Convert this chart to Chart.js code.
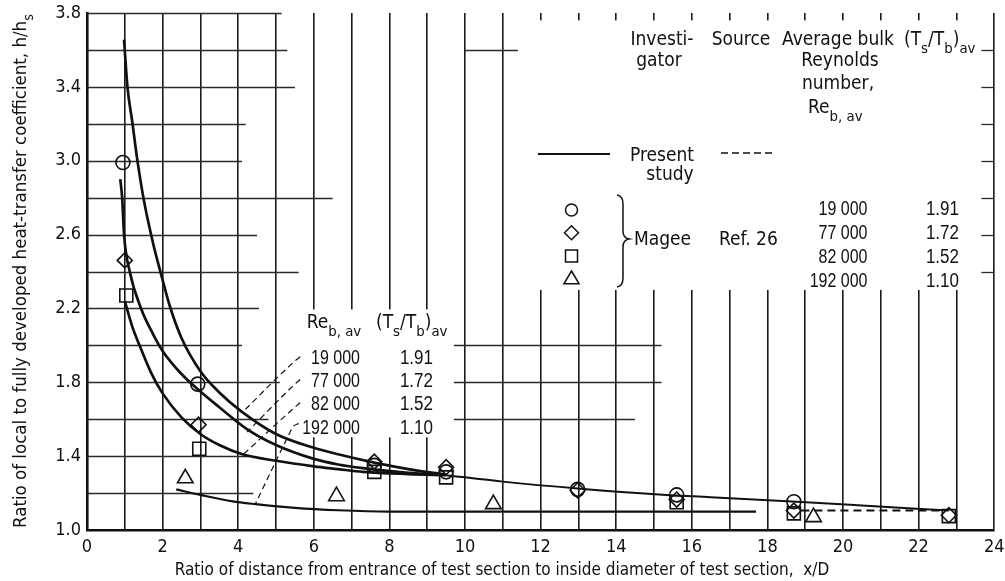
<!DOCTYPE html>
<html><head><meta charset="utf-8">
<script src="https://cdn.jsdelivr.net/npm/chart.js@4.4.1/dist/chart.umd.min.js"></script>
<style>html,body{margin:0;padding:0;background:#fff}canvas{display:block}</style>
</head><body>
<canvas id="c" width="1005" height="581"></canvas>
<script>
// ---------------- data ----------------
const xTickValues = [0,2,4,6,8,10,12,14,16,18,20,22,24];
const yTickLabels = ['1.0','1.4','1.8','2.2','2.6','3.0','3.4','3.8'];

// Present study curves (solid)
const c19X = [0.98,1.07,1.20,1.33,1.51,1.74,1.98,2.18,2.5,3.0,3.5,4.1,5.0,6.0,6.64,7.6,8.5,9.5];
const c19Y = [3.656,3.40,3.207,3.006,2.78,2.56,2.37,2.22,2.04,1.86,1.745,1.64,1.52,1.445,1.41,1.365,1.33,1.30];
const c77X = [0.88,0.93,0.98,1.13,1.43,1.75,2.0,2.5,3.0,3.5,4.24,5.0,6.0,6.64,7.3,8.5,9.5];
const c77Y = [2.90,2.80,2.60,2.40,2.20,2.06,1.97,1.845,1.75,1.665,1.545,1.46,1.385,1.355,1.335,1.31,1.30];
const c82X = [1.0,1.2,1.39,1.7,2.0,2.5,3.0,3.5,4.11,5.0,6.0,6.64,7.3,8.5,9.5];
const c82Y = [2.24,2.10,2.00,1.85,1.74,1.61,1.52,1.46,1.41,1.375,1.345,1.33,1.315,1.303,1.297];
const tailX = [9.5,11.0,12.98,15.04,16.5,18.9,20.5,22.8];
const tailY = [1.297,1.262,1.225,1.194,1.178,1.152,1.133,1.105];
const c192X = [2.36,3.0,3.85,4.46,5.5,6.65,8.0,12.0,17.7];
const c192Y = [1.22,1.19,1.155,1.14,1.12,1.107,1.10,1.10,1.10];
const dashX = [18.9,22.6];
const dashY = [1.105,1.105];

// Magee, Ref. 26 data points
const circX = [0.95,2.93,7.6,9.5,12.98,15.6,18.7];
const circY = [2.99,1.79,1.35,1.315,1.22,1.19,1.153];
const diamX = [1.0,2.95,7.6,9.5,12.98,15.6,18.7,22.8];
const diamY = [2.46,1.57,1.37,1.34,1.215,1.165,1.105,1.08];
const sqX = [1.04,2.97,7.6,9.5,15.6,18.7,22.8];
const sqY = [2.27,1.44,1.315,1.285,1.15,1.09,1.075];
const triX = [2.6,6.6,10.75,19.22];
const triY = [1.28,1.183,1.14,1.07];

// label leaders (dashed), data units
const lead19X = [5.64,5.5,4.10];  const lead19Y = [1.938,1.915,1.635];
const lead77X = [5.64,5.5,4.24];  const lead77Y = [1.815,1.79,1.531];
const lead82X = [5.64,5.5,4.11];  const lead82Y = [1.689,1.665,1.405];
const lead192X = [5.6,5.45,5.35,4.46]; const lead192Y = [1.577,1.56,1.52,1.144];

const reLabels = ['19 000','77 000','82 000','192 000'];
const tsLabels = ['1.91','1.72','1.52','1.10'];

// ---------------- helpers ----------------
const pts = (xs, ys) => xs.map((x, i) => ({x: x, y: ys[i]}));
const WORD = "'DejaVu Sans Condensed','DejaVu Sans',sans-serif";
const NUM = "'Liberation Sans','DejaVu Sans',sans-serif";
const INK = '#111';

function lineDs(xs, ys, w, dash) {
  return {type:'line', data: pts(xs, ys), borderColor: INK, borderWidth: w,
    borderDash: dash || [], pointRadius: 0, cubicInterpolationMode: 'monotone',
    fill: false, showLine: true};
}
function markDs(xs, ys, style, r) {
  return {type:'scatter', data: pts(xs, ys), pointStyle: style, pointRadius: r,
    pointHoverRadius: r, pointBorderColor: INK, pointBackgroundColor: 'rgba(0,0,0,0)',
    pointBorderWidth: 1.6, showLine: false};
}

// horizontal graph-paper segments (value, [u0,u1] ranges)
const hSeg = [
  [3.8, [[0,5.15]]],
  [3.6, [[0,5.3],[10,11.4],[23.6,24]]],
  [3.4, [[0,5.5],[23.6,24]]],
  [3.2, [[0,4.2],[23.6,24]]],
  [3.0, [[0,4.1],[23.6,24]]],
  [2.8, [[0,6.5],[23.6,24]]],
  [2.6, [[0,4.5],[23.6,24]]],
  [2.4, [[0,5.6],[23.6,24]]],
  [2.2, [[0,4.55]]],
  [2.0, [[0,4.1],[9.7,15.2]]],
  [1.8, [[0,5.1],[9.7,15.2]]],
  [1.6, [[0,4.8],[9.7,14.5]]],
  [1.4, [[0,4.3]]],
  [1.2, [[0,4.4]]]
];

// parts: {t, s: subscript}; sx: horizontal squeeze
function rich(ctx, parts, x, y, size, align, fam, sx) {
  sx = sx || 1;
  const sub = size * 0.78;
  let w = 0;
  parts.forEach(p => { ctx.font = (p.s ? sub : size) + 'px ' + fam; w += ctx.measureText(p.t).width; });
  w *= sx;
  let cx = align === 'center' ? x - w / 2 : align === 'right' ? x - w : x;
  ctx.save();
  ctx.translate(cx, y); ctx.scale(sx, 1);
  ctx.textAlign = 'left'; ctx.textBaseline = 'alphabetic';
  let ox = 0;
  parts.forEach(p => {
    ctx.font = (p.s ? sub : size) + 'px ' + fam;
    ctx.fillText(p.t, ox, p.s ? size * 0.42 : 0);
    ox += ctx.measureText(p.t).width;
  });
  ctx.restore();
}
function mark(ctx, style, x, y, r) {
  ctx.beginPath();
  if (style === 'circle') ctx.arc(x, y, r, 0, Math.PI * 2);
  else if (style === 'diamond') { ctx.moveTo(x, y - r); ctx.lineTo(x + r, y); ctx.lineTo(x, y + r); ctx.lineTo(x - r, y); ctx.closePath(); }
  else if (style === 'square') ctx.rect(x - r, y - r, 2 * r, 2 * r);
  else { ctx.moveTo(x, y - r); ctx.lineTo(x + r * 0.95, y + r * 0.6); ctx.lineTo(x - r * 0.95, y + r * 0.6); ctx.closePath(); }
  ctx.stroke();
}

const paperPlugin = {
  id: 'paper',
  beforeDatasetsDraw(chart) {
    const ctx = chart.ctx, xs = chart.scales.x, ys = chart.scales.y;
    ctx.save();
    ctx.strokeStyle = '#2a2a2a'; ctx.lineWidth = 1.3;
    hSeg.forEach(([v, segs]) => {
      const py = Math.round(ys.getPixelForValue(v)) + 0.5;
      segs.forEach(([a, b]) => {
        ctx.beginPath(); ctx.moveTo(xs.getPixelForValue(a), py); ctx.lineTo(xs.getPixelForValue(b), py); ctx.stroke();
      });
    });
    // white label areas
    ctx.fillStyle = '#fff';
    const box = (u0, v0, u1, v1) => {
      const x0 = xs.getPixelForValue(u0), x1 = xs.getPixelForValue(u1);
      const y0 = ys.getPixelForValue(v0), y1 = ys.getPixelForValue(v1);
      ctx.fillRect(x0, y0, x1 - x0, y1 - y0);
    };
    box(11.49, 3.76, 23.66, 2.30);
    box(5.55, 2.195, 9.70, 1.502);
    ctx.restore();
  },
  afterDatasetsDraw(chart) {
    const ctx = chart.ctx;
    ctx.save();
    ctx.fillStyle = INK; ctx.strokeStyle = INK;
    // ---- top-right key ----
    const S = 19;
    rich(ctx, [{t:'Investi-'}], 662, 45, S, 'center', WORD);
    rich(ctx, [{t:'gator'}], 659, 66, S, 'center', WORD);
    rich(ctx, [{t:'Source'}], 741, 45, S, 'center', WORD);
    rich(ctx, [{t:'Average bulk'}], 838, 45, S, 'center', WORD);
    rich(ctx, [{t:'Reynolds'}], 840, 66, S, 'center', WORD);
    rich(ctx, [{t:'number,'}], 838, 89, S, 'center', WORD);
    rich(ctx, [{t:'Re'},{t:'b, av', s:1}], 808, 113, S, 'left', WORD);
    rich(ctx, [{t:'(T'},{t:'s', s:1},{t:'/T'},{t:'b', s:1},{t:')'},{t:'av', s:1}], 904, 45, S, 'left', WORD);
    rich(ctx, [{t:'Present'}], 662, 161, S, 'center', WORD);
    rich(ctx, [{t:'study'}], 670, 180, S, 'center', WORD);
    ctx.lineWidth = 1.8;
    ctx.beginPath(); ctx.moveTo(538, 154); ctx.lineTo(610, 154); ctx.stroke();
    ctx.lineWidth = 1.4; ctx.setLineDash([7, 4]);
    ctx.beginPath(); ctx.moveTo(721, 153); ctx.lineTo(773, 153); ctx.stroke();
    ctx.setLineDash([]);
    ctx.lineWidth = 1.5;
    mark(ctx, 'circle', 571.5, 210, 6);
    mark(ctx, 'diamond', 571.5, 232.7, 7);
    mark(ctx, 'square', 571.5, 256, 6);
    mark(ctx, 'triangle', 571.5, 279, 8);
    // brace
    ctx.lineWidth = 1.5;
    ctx.beginPath();
    ctx.moveTo(617, 195); ctx.quadraticCurveTo(623, 196, 623, 204);
    ctx.lineTo(623, 231); ctx.quadraticCurveTo(623, 238, 629, 239);
    ctx.quadraticCurveTo(623, 240, 623, 247);
    ctx.lineTo(623, 278); ctx.quadraticCurveTo(623, 286, 617, 287);
    ctx.stroke();
    rich(ctx, [{t:'Magee'}], 634, 245, S, 'left', WORD);
    rich(ctx, [{t:'Ref. 26'}], 719, 245, S, 'left', WORD);
    const rows = [215, 239, 263, 287];
    rows.forEach((y, i) => {
      rich(ctx, [{t: reLabels[i]}], 867.5, y, 20, 'right', NUM, 0.8);
      rich(ctx, [{t: tsLabels[i]}], 959, y, 20, 'right', NUM, 0.85);
    });
    // ---- inner key ----
    rich(ctx, [{t:'Re'},{t:'b, av', s:1}], 306.7, 328, S, 'left', WORD);
    rich(ctx, [{t:'(T'},{t:'s', s:1},{t:'/T'},{t:'b', s:1},{t:')'},{t:'av', s:1}], 376, 328, S, 'left', WORD);
    const rows2 = [364, 387, 410, 434];
    rows2.forEach((y, i) => {
      rich(ctx, [{t: reLabels[i]}], 360, y, 20, 'right', NUM, 0.8);
      rich(ctx, [{t: tsLabels[i]}], 433, y, 20, 'right', NUM, 0.85);
    });
    // ---- axis titles ----
    rich(ctx, [{t:'Ratio of distance from entrance of test section to inside diameter of test section,  x/D'}], 502, 575, 17, 'center', WORD);
    ctx.translate(25.7, 271);
    ctx.rotate(-Math.PI / 2);
    rich(ctx, [{t:'Ratio of local to fully developed heat-transfer coefficient, h/h'},{t:'s', s:1}], 0, 0, 18.5, 'center', WORD);
    ctx.restore();
  }
};

new Chart(document.getElementById('c'), {
  type: 'scatter',
  data: { datasets: [
    lineDs(c19X, c19Y, 2.7), lineDs(c77X, c77Y, 2.7), lineDs(c82X, c82Y, 2.7),
    lineDs(tailX, tailY, 2.0), lineDs(c192X, c192Y, 2.2), lineDs(dashX, dashY, 2.0, [8, 5]),
    lineDs(lead19X, lead19Y, 1.2, [6, 4]), lineDs(lead77X, lead77Y, 1.2, [6, 4]),
    lineDs(lead82X, lead82Y, 1.2, [6, 4]), lineDs(lead192X, lead192Y, 1.2, [6, 4]),
    markDs(circX, circY, 'circle', 7), markDs(diamX, diamY, 'rectRot', 7.5),
    markDs(sqX, sqY, 'rect', 9.2), markDs(triX, triY, 'triangle', 9)
  ]},
  options: {
    responsive: false, animation: false, events: [],
    layout: { padding: { left: 0, right: 5, top: 13, bottom: 0 } },
    plugins: { legend: { display: false }, tooltip: { enabled: false } },
    scales: {
      x: { type: 'linear', min: 0, max: 24,
        afterFit(s) { s.height = 51; s.paddingLeft = 0; s.paddingRight = 0; },
        afterBuildTicks(s) { s.ticks = Array.from({length: 25}, (_, i) => ({value: i})); },
        ticks: { autoSkip: false, maxRotation: 0, padding: 7, color: INK,
          font: { family: WORD, size: 18 },
          callback: v => xTickValues.includes(v) ? String(v) : '' },
        grid: { color: '#1a1a1a', lineWidth: 1.6, drawTicks: false },
        border: { color: INK, width: 2.6 } },
      y: { type: 'linear', min: 1.0, max: 3.8,
        afterFit(s) { s.width = 87; s.paddingTop = 0; s.paddingBottom = 0; },
        afterBuildTicks(s) { s.ticks = Array.from({length: 15}, (_, i) => ({value: 1 + i * 0.2})); },
        ticks: { autoSkip: false, padding: 6, color: INK,
          font: { family: WORD, size: 18 },
          callback: v => { const s = v.toFixed(1); return yTickLabels.includes(s) ? s : ''; } },
        grid: { display: false, drawTicks: false },
        border: { color: INK, width: 2.6 } }
    }
  },
  plugins: [paperPlugin]
});
</script>
</body></html>
